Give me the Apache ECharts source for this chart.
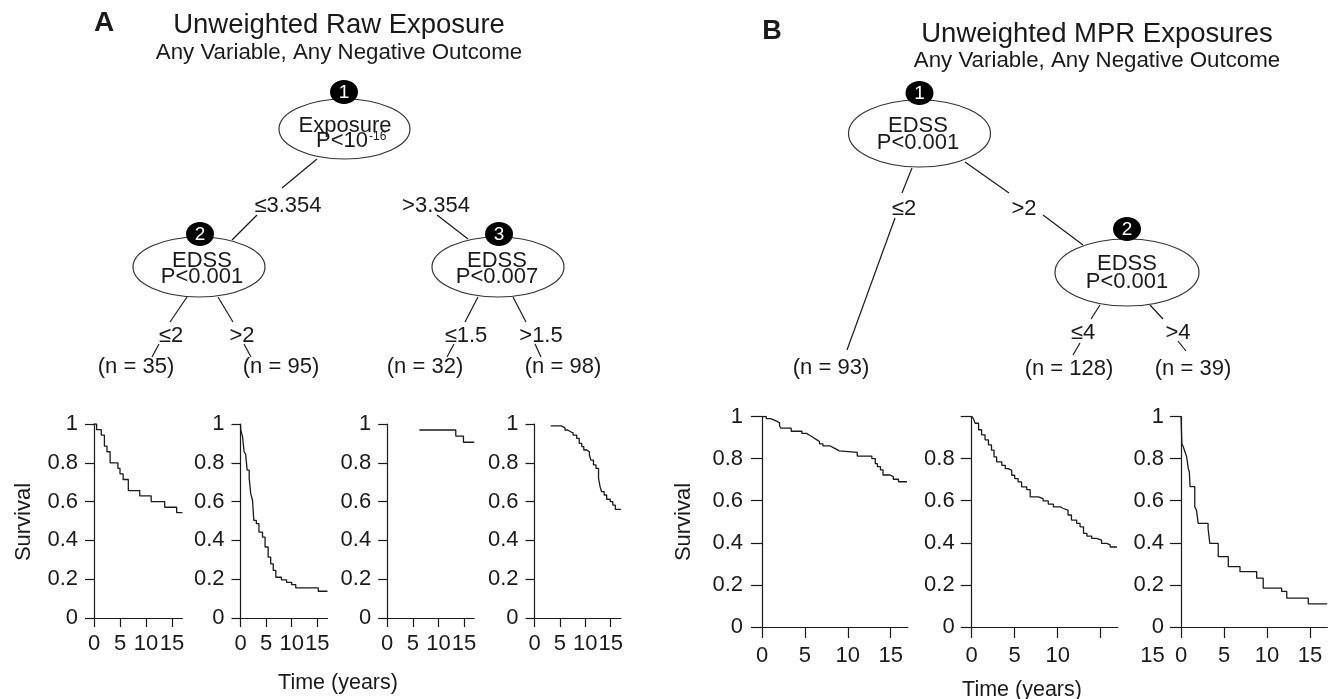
<!DOCTYPE html>
<html>
<head>
<meta charset="utf-8">
<script src="https://cdn.jsdelivr.net/npm/echarts@6/dist/echarts.min.js"></script>
<style>
html,body{margin:0;padding:0;background:#fff;}
#main{width:1334px;height:699px;}
</style>
</head>
<body>
<div id="main"></div>
<script>
var fontFamily='"Liberation Sans",Arial,Helvetica,sans-serif';
var ink='#1a1a1a';

// Kaplan-Meier curves (time in years, survival)
var a1Time=[0,0.5,1.4,2.0,2.5,3.1,4.6,5.0,5.6,6.6,8.8,11.0,13.6,15.9,17.0];
var a1Surv=[1,0.971,0.943,0.886,0.857,0.8,0.771,0.743,0.714,0.657,0.629,0.6,0.571,0.543,0.543];
var a2Time=[0,0.05,0.4,0.7,1.0,1.3,1.7,2.0,2.35,2.6,3.1,3.6,4.3,4.8,5.4,5.9,6.4,6.9,8.0,9.0,10.0,10.8,15.2,17.0];
var a2Surv=[1,0.97,0.935,0.857,0.845,0.762,0.72,0.641,0.607,0.503,0.486,0.443,0.417,0.366,0.314,0.279,0.245,0.21,0.197,0.184,0.172,0.155,0.138,0.138];
var a3Time=[6.3,13.4,14.9,17.0];
var a3Surv=[0.969,0.938,0.906,0.906];
var a4Time=[3.2,5.3,6.0,6.5,7.1,7.6,8.3,8.8,9.3,9.7,10.3,10.8,11.1,11.6,12.1,12.6,12.9,13.2,13.7,14.2,14.9,15.4,15.9,17.0];
var a4Surv=[0.99,0.98,0.969,0.96,0.954,0.943,0.926,0.9,0.883,0.866,0.857,0.84,0.814,0.789,0.771,0.72,0.677,0.651,0.634,0.612,0.6,0.582,0.56,0.56];
var b1Time=[0,0.5,1.0,1.3,1.7,2.05,2.2,3.4,4.65,5.2,5.5,5.8,6.1,6.4,6.7,7.1,7.95,8.3,8.7,9.0,11.1,12.8,13.2,13.45,13.8,14.1,14.9,15.3,15.9,16.9];
var b1Surv=[1,0.99,0.985,0.978,0.97,0.955,0.945,0.93,0.92,0.912,0.905,0.897,0.889,0.881,0.87,0.86,0.852,0.844,0.837,0.83,0.812,0.8,0.776,0.762,0.746,0.722,0.714,0.702,0.69,0.69];
var b2Time=[0,0.2,0.4,0.8,1.15,1.55,1.95,2.3,2.6,2.9,3.5,3.9,4.25,4.65,5.0,5.4,5.8,6.4,6.8,7.75,8.3,8.9,9.5,10.3,10.65,11.2,11.6,12.2,12.6,13.0,13.4,13.95,14.5,15.1,15.7,16.1,16.9];
var b2Surv=[1,0.99,0.968,0.937,0.913,0.889,0.865,0.84,0.808,0.784,0.768,0.752,0.744,0.721,0.705,0.689,0.666,0.653,0.618,0.61,0.599,0.584,0.571,0.563,0.555,0.532,0.508,0.492,0.476,0.445,0.432,0.421,0.413,0.397,0.39,0.38,0.38];
var b3Time=[0,0.1,0.27,0.47,0.66,0.85,0.97,1.05,1.6,1.8,2.0,3.15,3.35,4.33,5.5,6.86,8.8,9.56,11.7,12.3,14.8,17.0];
var b3Surv=[1,0.872,0.855,0.831,0.808,0.752,0.737,0.667,0.571,0.555,0.492,0.468,0.397,0.334,0.287,0.263,0.232,0.185,0.169,0.137,0.11,0.11];

var timeTicks=[0,5,10,15];
var timeTicksB2=[0,5,10];   // the "15" of this panel sits out of place in the figure
var timeMax=17;

// panel boxes (pixels)
var panels=[
    {t:a1Time,s:a1Surv,left:94,top:424,width:88.4,height:194,tick:9,xm:15,ym:16,labels:timeTicks,top1:true},
    {t:a2Time,s:a2Surv,left:240.5,top:424,width:87,height:194,tick:9,xm:15,ym:16,labels:timeTicks,top1:true},
    {t:a3Time,s:a3Surv,left:387.2,top:424,width:87,height:194,tick:9,xm:15,ym:16,labels:timeTicks,top1:true},
    {t:a4Time,s:a4Surv,left:534.5,top:424,width:86.4,height:194,tick:9,xm:15,ym:16,labels:timeTicks,top1:true},
    {t:b1Time,s:b1Surv,left:762,top:416.5,width:145.9,height:210.5,tick:11,xm:18,ym:19,labels:timeTicks,top1:true},
    {t:b2Time,s:b2Surv,left:971.7,top:416.5,width:146.2,height:210.5,tick:11,xm:18,ym:17,labels:timeTicksB2,top1:false},
    {t:b3Time,s:b3Surv,left:1181,top:416.5,width:146.2,height:210.5,tick:11,xm:18,ym:17,labels:timeTicks,top1:true}
];

var grids=[],xAxes=[],yAxes=[],series=[];
panels.forEach(function(p,i){
    grids.push({left:p.left,top:p.top,width:p.width,height:p.height,containLabel:false,outerBoundsMode:'none'});
    xAxes.push({
        gridIndex:i,type:'value',min:0,max:timeMax,
        axisLine:{show:true,onZero:false,lineStyle:{color:ink,width:1.2}},
        axisTick:{show:true,length:p.tick,customValues:timeTicks,lineStyle:{color:ink,width:1.2}},
        axisLabel:{show:true,customValues:p.labels,margin:p.xm,fontSize:22,fontFamily:fontFamily,color:ink},
        splitLine:{show:false}
    });
    yAxes.push({
        gridIndex:i,type:'value',min:0,max:1,interval:0.2,
        axisLine:{show:true,lineStyle:{color:ink,width:1.2}},
        axisTick:{show:true,length:p.tick,lineStyle:{color:ink,width:1.2}},
        axisLabel:{show:true,margin:p.ym,fontSize:22,fontFamily:fontFamily,color:ink,
            formatter:function(v){ if(v===1&&!p.top1){return '';} return String(v); }},
        splitLine:{show:false}
    });
    var data=p.t.map(function(x,k){return [x,p.s[k]];});
    series.push({
        type:'line',xAxisIndex:i,yAxisIndex:i,data:data,step:'end',
        symbol:'none',showSymbol:false,silent:true,
        lineStyle:{color:ink,width:1.3}
    });
});

// tree drawing helpers
function txt(x,y,s,size,extra){
    var st={text:s,fontSize:size,fontFamily:fontFamily,fill:ink,align:'center',verticalAlign:'middle'};
    if(extra){for(var k in extra){st[k]=extra[k];}}
    return {type:'text',x:x,y:y,z:10,style:st};
}
function seg(x1,y1,x2,y2){
    return {type:'line',z:5,shape:{x1:x1,y1:y1,x2:x2,y2:y2},style:{stroke:ink,lineWidth:1.2}};
}
function oval(cx,cy,rx,ry){
    return {type:'ellipse',z:6,shape:{cx:cx,cy:cy,rx:rx,ry:ry},style:{fill:'#fff',stroke:'#333',lineWidth:1.2}};
}
function badge(cx,cy,n){
    return [
        {type:'ellipse',z:8,shape:{cx:cx,cy:cy,rx:14,ry:12},style:{fill:'#000'}},
        {type:'text',x:cx,y:cy+1,z:9,style:{text:n,fontSize:19,fontFamily:fontFamily,fill:'#fff',align:'center',verticalAlign:'middle'}}
    ];
}

var g=[];
// panel A heading
g.push(txt(104,23,'A',28,{fontWeight:'bold'}));
g.push(txt(339,25,'Unweighted Raw Exposure',27.5));
g.push(txt(339,53,'Any Variable, Any Negative Outcome',22.3));
// panel A tree
g.push(seg(317,159,282,188),seg(257,215,232,240),seg(437,215,468,239));
g.push(seg(187,297,170,322),seg(218,297,233,322),seg(159,344,152,357),seg(244,344,251,357));
g.push(seg(478,297,465,322),seg(513,297,526,322),seg(454,344,447,357),seg(535,344,541,357));
g.push(oval(344.5,129,65.5,30),oval(199,267,66,30),oval(498,267,66,30));
g=g.concat(badge(344,92,'1'),badge(200,234,'2'),badge(499,234,'3'));
g.push(txt(345,126,'Exposure',22),txt(368,141,'P<10',22,{align:'right'}),txt(369,136.5,'-16',12,{align:'left'}));
g.push(txt(202,261,'EDSS',22),txt(202,277,'P<0.001',22));
g.push(txt(497,261,'EDSS',22),txt(497,277,'P<0.007',22));
g.push(txt(288,206,'≤3.354',22),txt(436,206,'>3.354',22));
g.push(txt(171,336,'≤2',22),txt(242,336,'>2',22),txt(466,336,'≤1.5',22),txt(541,336,'>1.5',22));
g.push(txt(136,367,'(n = 35)',22),txt(281,367,'(n = 95)',22),txt(425,367,'(n = 32)',22),txt(563,367,'(n = 98)',22));

// panel B heading
g.push(txt(772,32,'B',27,{fontWeight:'bold'}));
g.push(txt(1097,34,'Unweighted MPR Exposures',27.5));
g.push(txt(1097,61,'Any Variable, Any Negative Outcome',22.3));
// panel B tree
g.push(seg(912,168,902,193),seg(965,162,1009,193),seg(895,218,847,350),seg(1043,215,1083,245));
g.push(seg(1100,305,1091,319),seg(1150,305,1163,319),seg(1080,343,1073,355),seg(1178,341,1186,351));
g.push(oval(919.5,133.5,71,33.5),oval(1127,272.5,72,33.5));
g=g.concat(badge(919.5,93,'1'),badge(1127,229,'2'));
g.push(txt(918,126,'EDSS',22),txt(918,142.5,'P<0.001',22));
g.push(txt(1127,264,'EDSS',22),txt(1127,281.5,'P<0.001',22));
g.push(txt(904,209,'≤2',22),txt(1024,209,'>2',22),txt(1083,333,'≤4',22),txt(1178,333,'>4',22));
g.push(txt(831,368,'(n = 93)',22),txt(1069,369,'(n = 128)',22),txt(1193,369,'(n = 39)',22));

// axis titles shared by the survival panels
g.push({type:'text',x:23.5,y:522,rotation:Math.PI/2,z:10,style:{text:'Survival',fontSize:22,fontFamily:fontFamily,fill:ink,align:'center',verticalAlign:'middle'}});
g.push({type:'text',x:683.5,y:522,rotation:Math.PI/2,z:10,style:{text:'Survival',fontSize:22,fontFamily:fontFamily,fill:ink,align:'center',verticalAlign:'middle'}});
g.push(txt(338,683,'Time (years)',21.5));
g.push(txt(1022,690,'Time (years)',21.5));
g.push(txt(1152.5,656,'15',22));

var chart=echarts.init(document.getElementById('main'));
chart.setOption({
    backgroundColor:'#fff',
    animation:false,
    grid:grids,
    xAxis:xAxes,
    yAxis:yAxes,
    series:series,
    graphic:{elements:g}
});
</script>
</body>
</html>
